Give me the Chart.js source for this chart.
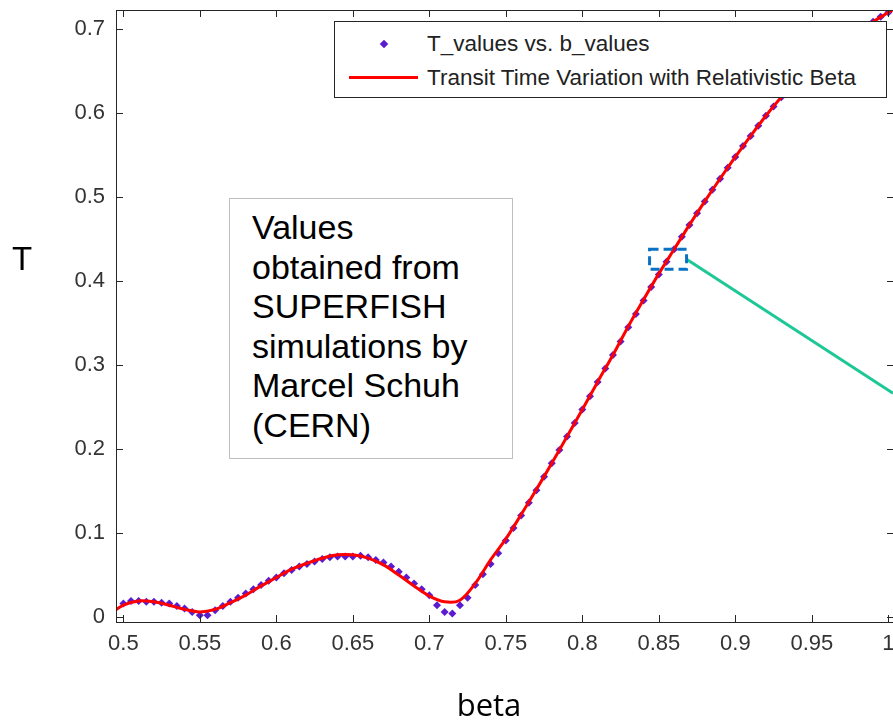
<!DOCTYPE html>
<html lang="en">
<head>
<meta charset="UTF-8">
<title>Transit Time Variation with Relativistic Beta</title>
<script src="https://cdn.jsdelivr.net/npm/chart.js"></script>
<style>
    body { margin: 0; background: #fff; overflow: hidden; }
    .stage { position: relative; width: 893px; height: 725px; overflow: hidden; font-family: "Liberation Sans", Arial, sans-serif; }
    #chartBeta { position: absolute; left: 0; top: 0; }
    .legend { position: absolute; left: 334px; top: 21px; width: 551px; height: 75px; border: 1px solid #262626; background: #fff; color: #222; font-size: 22.5px; }
    .legend .row { position: absolute; left: 92px; height: 26px; line-height: 26px; white-space: nowrap; }
    .legend .diamond { position: absolute; left: 46px; top: 19px; width: 6px; height: 6px; background: #5b1bd0; transform: rotate(45deg); }
    .legend .redline { position: absolute; left: 14px; top: 54px; width: 69px; height: 3px; background: #ff0000; }
    .note { position: absolute; left: 229px; top: 198px; width: 284px; height: 261px; box-sizing: border-box; border: 1.5px solid #bfbfbf; background: #fff; padding: 9px 0 0 22px; font-size: 34px; line-height: 39.5px; color: #000; white-space: nowrap; }
    .ylabel { position: absolute; left: 12px; top: 242px; font-size: 33px; line-height: 33px; color: #000; }
    .xlabel { position: absolute; left: 389px; width: 200px; text-align: center; top: 689px; font-family: "Open Sans", sans-serif; font-size: 31px; line-height: 31px; color: #000; }
</style>
</head>
<body>
<div class="stage">
    <canvas id="chartBeta" width="920" height="725"></canvas>
    <div class="note">Values<br>obtained from<br>SUPERFISH<br>simulations by<br>Marcel Schuh<br>(CERN)</div>
    <div class="legend">
        <span class="diamond"></span>
        <span class="row" style="top: 9px">T_values vs. b_values</span>
        <span class="redline"></span>
        <span class="row" style="top: 43px">Transit Time Variation with Relativistic Beta</span>
    </div>
    <div class="ylabel">T</div>
    <div class="xlabel">beta</div>
</div>
<script>
    // SUPERFISH samples (diamonds)
    const bValues = [
        0.500, 0.505, 0.510, 0.515, 0.520, 0.525, 0.530, 0.535, 0.540, 0.545,
        0.550, 0.555, 0.560, 0.565, 0.570, 0.575, 0.580, 0.585, 0.590, 0.595,
        0.600, 0.605, 0.610, 0.615, 0.620, 0.625, 0.630, 0.635, 0.640, 0.645,
        0.650, 0.655, 0.660, 0.665, 0.670, 0.675, 0.680, 0.685, 0.690, 0.695,
        0.700, 0.705, 0.710, 0.715, 0.720, 0.725, 0.730, 0.735, 0.740, 0.745,
        0.750, 0.755, 0.760, 0.765, 0.770, 0.775, 0.780, 0.785, 0.790, 0.795,
        0.800, 0.805, 0.810, 0.815, 0.820, 0.825, 0.830, 0.835, 0.840, 0.845,
        0.850, 0.855, 0.860, 0.865, 0.870, 0.875, 0.880, 0.885, 0.890, 0.895,
        0.900, 0.905, 0.910, 0.915, 0.920, 0.925, 0.930, 0.935, 0.940, 0.945,
        0.950, 0.955, 0.960, 0.965, 0.970, 0.975, 0.980, 0.985, 0.990, 0.995,
        1.000
    ];
    const tValues = [
        0.016, 0.019, 0.019, 0.018, 0.018, 0.017, 0.016, 0.013, 0.010, 0.006,
        0.002, 0.002, 0.008, 0.013, 0.018, 0.023, 0.028, 0.033, 0.038, 0.043,
        0.047, 0.052, 0.056, 0.060, 0.063, 0.066, 0.069, 0.071, 0.072, 0.072,
        0.072, 0.073, 0.071, 0.068, 0.065, 0.060, 0.054, 0.047, 0.040, 0.033,
        0.026, 0.014, 0.006, 0.004, 0.014, 0.023, 0.038, 0.051, 0.063, 0.076,
        0.091, 0.106, 0.121, 0.136, 0.151, 0.167, 0.183, 0.199, 0.215, 0.231,
        0.247, 0.263, 0.280, 0.296, 0.312, 0.328, 0.345, 0.361, 0.377, 0.393,
        0.408, 0.423, 0.438, 0.453, 0.467, 0.481, 0.495, 0.509, 0.522, 0.535,
        0.548, 0.561, 0.573, 0.585, 0.597, 0.608, 0.619, 0.629, 0.638, 0.647,
        0.655, 0.663, 0.670, 0.677, 0.684, 0.691, 0.697, 0.703, 0.709, 0.715,
        0.720
    ];

    // fitted curve (red line)
    const fitBeta = [
        0.49, 0.50, 0.51, 0.52, 0.53, 0.54, 0.55, 0.56, 0.57, 0.58,
        0.59, 0.60, 0.61, 0.62, 0.63, 0.64, 0.65, 0.66, 0.67, 0.68,
        0.69, 0.70, 0.71, 0.72, 0.73, 0.74, 0.75, 0.76, 0.77, 0.78,
        0.79, 0.80, 0.81, 0.82, 0.83, 0.84, 0.85, 0.86, 0.87, 0.88,
        0.89, 0.90, 0.91, 0.92, 0.93, 0.94, 0.95, 0.96, 0.97, 0.98,
        0.99, 1.00, 1.01
    ];
    const fitT = [
        0.002, 0.014, 0.019, 0.018, 0.014, 0.009, 0.006, 0.009, 0.017, 0.026,
        0.037, 0.047, 0.057, 0.064, 0.070, 0.074, 0.074, 0.070, 0.062, 0.050,
        0.037, 0.025, 0.018, 0.020, 0.040, 0.068, 0.093, 0.122, 0.152, 0.183,
        0.215, 0.247, 0.280, 0.312, 0.346, 0.378, 0.409, 0.438, 0.467, 0.495,
        0.522, 0.548, 0.573, 0.597, 0.619, 0.638, 0.655, 0.670, 0.684, 0.697,
        0.709, 0.720, 0.731
    ];

    const xTickVals = [0.5, 0.55, 0.6, 0.65, 0.7, 0.75, 0.8, 0.85, 0.9, 0.95, 1];
    const xTickLabels = ['0.5', '0.55', '0.6', '0.65', '0.7', '0.75', '0.8', '0.85', '0.9', '0.95', '1'];
    const yTickVals = [0, 0.1, 0.2, 0.3, 0.4, 0.5, 0.6, 0.7];
    const yTickLabels = ['0', '0.1', '0.2', '0.3', '0.4', '0.5', '0.6', '0.7'];

    // zoomed point marked on the slide
    const zoomBeta = 0.8557;
    const zoomT = 0.426;

    const axisBox = {
        id: 'axisBox',
        afterDatasetsDraw(chart) {
            const { ctx, chartArea: a, scales: { x, y } } = chart;
            ctx.save();
            ctx.strokeStyle = '#262626';
            ctx.lineWidth = 1;
            ctx.strokeRect(Math.round(a.left) + 0.5, Math.round(a.top) + 0.5, Math.round(a.right - a.left), Math.round(a.bottom - a.top));
            ctx.beginPath();
            xTickVals.forEach(v => {
                const px = Math.round(x.getPixelForValue(v)) + 0.5;
                ctx.moveTo(px, a.bottom); ctx.lineTo(px, a.bottom - 7);
                ctx.moveTo(px, a.top); ctx.lineTo(px, a.top + 7);
            });
            yTickVals.forEach(v => {
                const py = Math.round(y.getPixelForValue(v)) + 0.5;
                ctx.moveTo(a.left, py); ctx.lineTo(a.left + 7, py);
                ctx.moveTo(a.right, py); ctx.lineTo(a.right - 7, py);
            });
            ctx.stroke();

            // dashed zoom box and callout line
            const cx = x.getPixelForValue(zoomBeta);
            const cy = y.getPixelForValue(zoomT);
            ctx.strokeStyle = '#1ec896';
            ctx.lineWidth = 3;
            ctx.beginPath();
            ctx.moveTo(cx + 19, cy);
            ctx.lineTo(893, cy + 134);
            ctx.stroke();
            ctx.strokeStyle = '#0a72c4';
            ctx.lineWidth = 3;
            ctx.setLineDash([9, 5]);
            ctx.strokeRect(cx - 18, cy - 10, 37, 20);
            ctx.restore();
        }
    };

    Chart.defaults.font.family = '"Liberation Sans", Arial, sans-serif';

    const betaChart = new Chart(document.getElementById('chartBeta'), {
        type: 'scatter',
        data: {
            datasets: [
                {
                    label: 'T_values vs. b_values',
                    data: bValues.map((b, i) => ({ x: b, y: tValues[i] })),
                    pointStyle: 'rectRot',
                    pointRadius: 4,
                    pointBorderWidth: 0,
                    backgroundColor: '#5b1bd0',
                    borderColor: '#5b1bd0',
                    order: 2
                },
                {
                    label: 'Transit Time Variation with Relativistic Beta',
                    data: fitBeta.map((b, i) => ({ x: b, y: fitT[i] })),
                    showLine: true,
                    borderColor: '#ff0000',
                    borderWidth: 3,
                    pointRadius: 0,
                    tension: 0.35,
                    order: 1
                }
            ]
        },
        options: {
            responsive: false,
            devicePixelRatio: 1,
            animation: false,
            events: [],
            layout: { padding: { top: 10, right: 26, left: 0, bottom: 0 } },
            plugins: { legend: { display: false }, tooltip: { enabled: false } },
            scales: {
                x: {
                    type: 'linear',
                    min: 0.4952,
                    max: 1.0037,
                    grid: { display: false, drawTicks: false },
                    border: { display: false },
                    afterBuildTicks: s => { s.ticks = xTickVals.map(v => ({ value: v })); },
                    afterFit: s => { s.height = 103; s.paddingLeft = 0; s.paddingRight = 0; },
                    ticks: {
                        padding: 9,
                        color: '#333',
                        font: { size: 22 },
                        maxRotation: 0,
                        autoSkip: false,
                        callback: (v, i) => xTickLabels[i]
                    }
                },
                y: {
                    type: 'linear',
                    min: -0.006,
                    max: 0.723,
                    grid: { display: false, drawTicks: false },
                    border: { display: false },
                    afterBuildTicks: s => { s.ticks = yTickVals.map(v => ({ value: v })); },
                    afterFit: s => { s.width = 116; s.paddingTop = 0; s.paddingBottom = 0; },
                    ticks: {
                        padding: 11,
                        color: '#333',
                        font: { size: 22 },
                        autoSkip: false,
                        callback: (v, i) => yTickLabels[i]
                    }
                }
            }
        },
        plugins: [axisBox]
    });
</script>
</body>
</html>
